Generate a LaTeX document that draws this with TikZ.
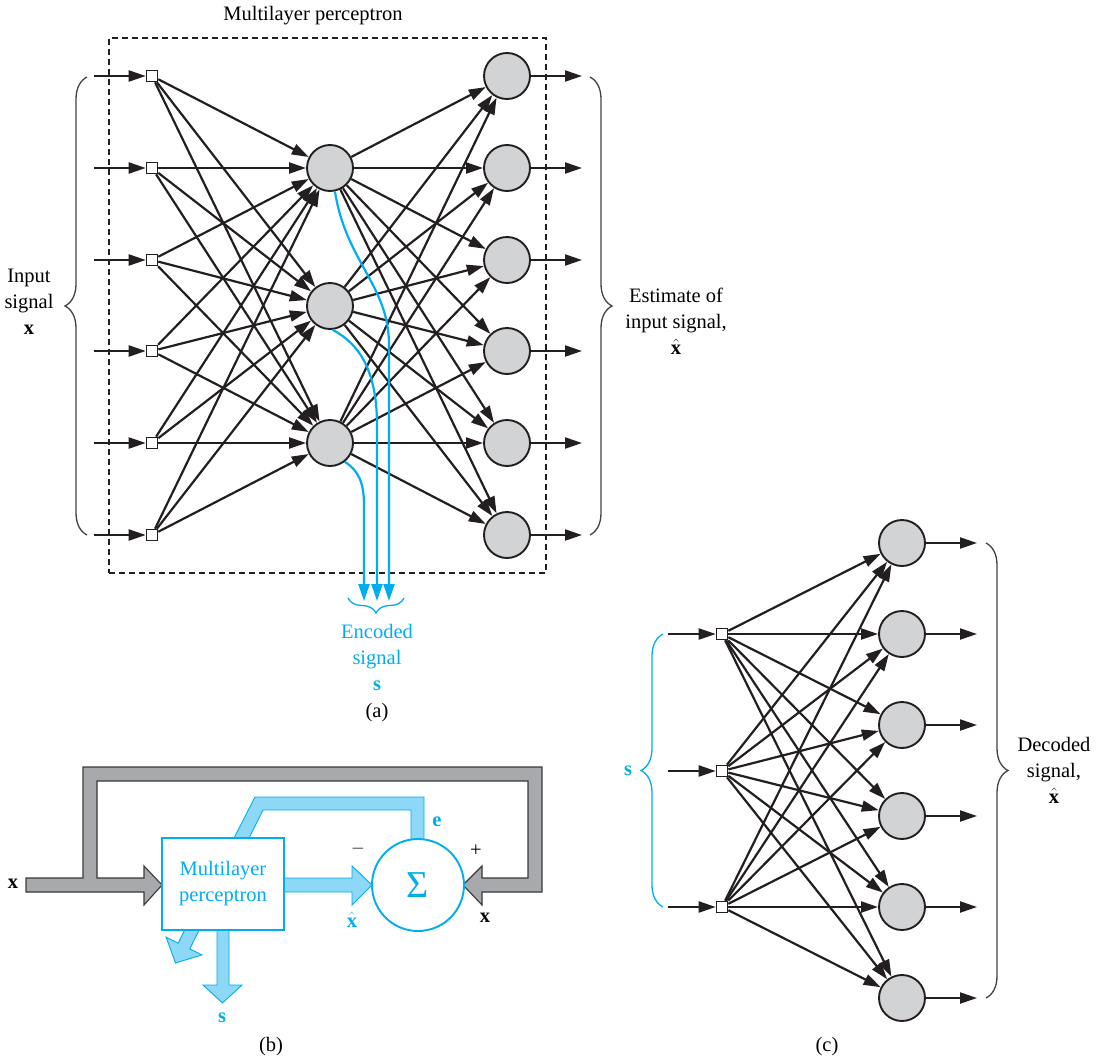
\documentclass[tikz,border=0pt]{standalone}
\usepackage{fontspec}
\setmainfont{Liberation Serif}
\usetikzlibrary{arrows.meta,decorations.pathreplacing}
\definecolor{ink}{HTML}{231F20}
\definecolor{cyanc}{HTML}{00AEEF}
\definecolor{lblue}{HTML}{8DD7F7}
\definecolor{ngray}{HTML}{D1D3D4}
\definecolor{bgray}{HTML}{A7A9AC}
\definecolor{bdark}{HTML}{3A3A3C}
\begin{document}
\begin{tikzpicture}[x=1pt,y=-1pt,
  neuron/.style={circle, draw=ink, line width=1.9pt, fill=ngray, minimum size=46pt, inner sep=0pt},
  src/.style={rectangle, draw=ink, line width=1.6pt, fill=white, minimum size=11pt, inner sep=0pt},
  conn/.style={draw=ink, line width=2.2pt, -{Triangle[length=17pt,width=11pt]}},
  bconn/.style={draw=cyanc, line width=2.2pt, -{Triangle[length=17pt,width=11pt]}},
  lbl/.style={font=\fontsize{20.5}{26}\selectfont, align=center, inner sep=0pt},
  brc/.style={decorate, decoration={brace, amplitude=22pt}, line width=1.3pt, draw=ink!85},
  fatgray/.style={fill=bgray, draw=bdark, line width=1.1pt, line join=miter},
  fatblue/.style={fill=lblue, draw=cyanc, line width=0.9pt, line join=miter},
]
\useasboundingbox (0,0) rectangle (1105,1060);

% ---------------- (a) ----------------
\node[draw=ink, line width=1.2pt, dash pattern=on 6pt off 4pt, minimum width=437pt, minimum height=535pt, inner sep=0pt] (frame) at (327.5,305.5) {};
\node[lbl] (title) at (313,16) {Multilayer perceptron};

\foreach \i/\y in {1/76,2/168,3/260,4/351,5/443,6/535} {
  \node[src] (ai\i) at (152,\y) {};
  \node[neuron] (ao\i) at (507,\y) {};
  \coordinate (ain\i) at (94,\y);
  \coordinate (aout\i) at (582,\y);
}
\foreach \j/\y in {1/168,2/306,3/443} {
  \node[neuron] (ah\j) at (330,\y) {};
}
\foreach \i in {1,...,6} {
  \draw[conn] (ain\i) -- (ai\i);
  \draw[conn] (ao\i) -- (aout\i);
  \foreach \j in {1,2,3} {
    \draw[conn] (ai\i) -- (ah\j);
    \draw[conn] (ah\j) -- (ao\i);
  }
}
% encoded outputs
\draw[bconn] (ah1.-78) .. controls (346,262) and (389,285) .. (389,345) -- (389,601);
\draw[bconn] (ah2.-84) .. controls (362,345) and (377,375) .. (377,425) -- (377,601);
\draw[bconn] (ah3.-52) .. controls (358,470) and (364,482) .. (364,505) -- (364,601);

\coordinate (bl1) at (87,535); \coordinate (bl2) at (87,77);
\draw[brc] (bl1) -- (bl2);
\node[lbl] (inlbl) at (29,302) {Input\\signal\\\textbf{x}};
\coordinate (br1) at (590,77); \coordinate (br2) at (590,535);
\draw[brc] (br1) -- (br2);
\node[lbl] (estlbl) at (676,321) {Estimate of\\input signal,\\$\hat{\mathbf{x}}$};

\coordinate (be1) at (404,598); \coordinate (be2) at (348,598);
\draw[brc, draw=cyanc, decoration={brace, amplitude=15pt}] (be1) -- (be2);
\node[lbl, text=cyanc] (enclbl) at (377,657) {Encoded\\signal\\\textbf{s}};
\node[lbl] (capa) at (377,713) {(a)};

% ---------------- (b) ----------------
\filldraw[fatgray] (26,878) -- (83,878) -- (83,767) -- (542,767) -- (542,892) -- (482,892) -- (482,905) -- (463,885) -- (482,866) -- (482,878) -- (528,878) -- (528,781) -- (97,781) -- (97,878) -- (144,878) -- (144,866) -- (162,885) -- (144,905) -- (144,892) -- (26,892) -- cycle;
\filldraw[fatblue] (233,840) -- (255,797) -- (424,797) -- (424,845) -- (411,845) -- (411,810) -- (263,810) -- (248,840) -- cycle;
\filldraw[fatblue] (280,878) -- (352,878) -- (352,866) -- (372,885) -- (352,905) -- (352,892) -- (280,892) -- cycle;
\filldraw[fatblue] (217,925) -- (217,985) -- (203,985) -- (222.5,1003) -- (242,985) -- (229,985) -- (229,925) -- cycle;
\filldraw[fatblue] (200.5,927.4) -- (189.8,948.9) -- (201.9,954.9) -- (175.5,963) -- (166.1,937.1) -- (178.2,943.1) -- (188.9,921.6) -- cycle;

\node[lbl, draw=cyanc, line width=1.9pt, fill=white, minimum width=122pt, minimum height=92pt, text=cyanc] (mlp) at (223,884) {Multilayer\\perceptron};
\node[circle, draw=cyanc, line width=1.9pt, fill=white, minimum size=92pt, inner sep=0pt, text=cyanc, font=\fontsize{38}{38}\selectfont] (sum) at (418,885) {Σ};

\node[lbl] (xin) at (13,884) {\textbf{x}};
\node[lbl, text=ink!80] (minus) at (358,851) {–};
\node[lbl] (plus) at (476,851) {+};
\node[lbl, text=cyanc] (elbl) at (437,822) {\textbf{e}};
\node[lbl, text=cyanc] (xhatb) at (352,920) {$\hat{\mathbf{x}}$};
\node[lbl] (xright) at (485,918) {\textbf{x}};
\node[lbl, text=cyanc] (sb) at (222,1018) {\textbf{s}};
\node[lbl] (capb) at (271,1047) {(b)};

% ---------------- (c) ----------------
\foreach \i/\y in {1/634,2/771,3/907} {
  \node[src] (ci\i) at (722,\y) {};
  \coordinate (cin\i) at (668,\y);
}
\foreach \k/\y in {1/543,2/634,3/725,4/816,5/907,6/998} {
  \node[neuron] (co\k) at (902,\y) {};
  \coordinate (cout\k) at (977,\y);
}
\foreach \i in {1,2,3} {
  \draw[conn] (cin\i) -- (ci\i);
  \foreach \k in {1,...,6} {
    \draw[conn] (ci\i) -- (co\k);
  }
}
\foreach \k in {1,...,6} {
  \draw[conn] (co\k) -- (cout\k);
}
\coordinate (cb1) at (663,907); \coordinate (cb2) at (663,634);
\draw[brc, draw=cyanc] (cb1) -- (cb2);
\node[lbl, text=cyanc] (slbl) at (628,771) {\textbf{s}};
\coordinate (cr1) at (986,543); \coordinate (cr2) at (986,998);
\draw[brc] (cr1) -- (cr2);
\node[lbl] (declbl) at (1054,770) {Decoded\\signal,\\$\hat{\mathbf{x}}$};
\node[lbl] (capc) at (827,1047) {(c)};
\end{tikzpicture}
\end{document}
